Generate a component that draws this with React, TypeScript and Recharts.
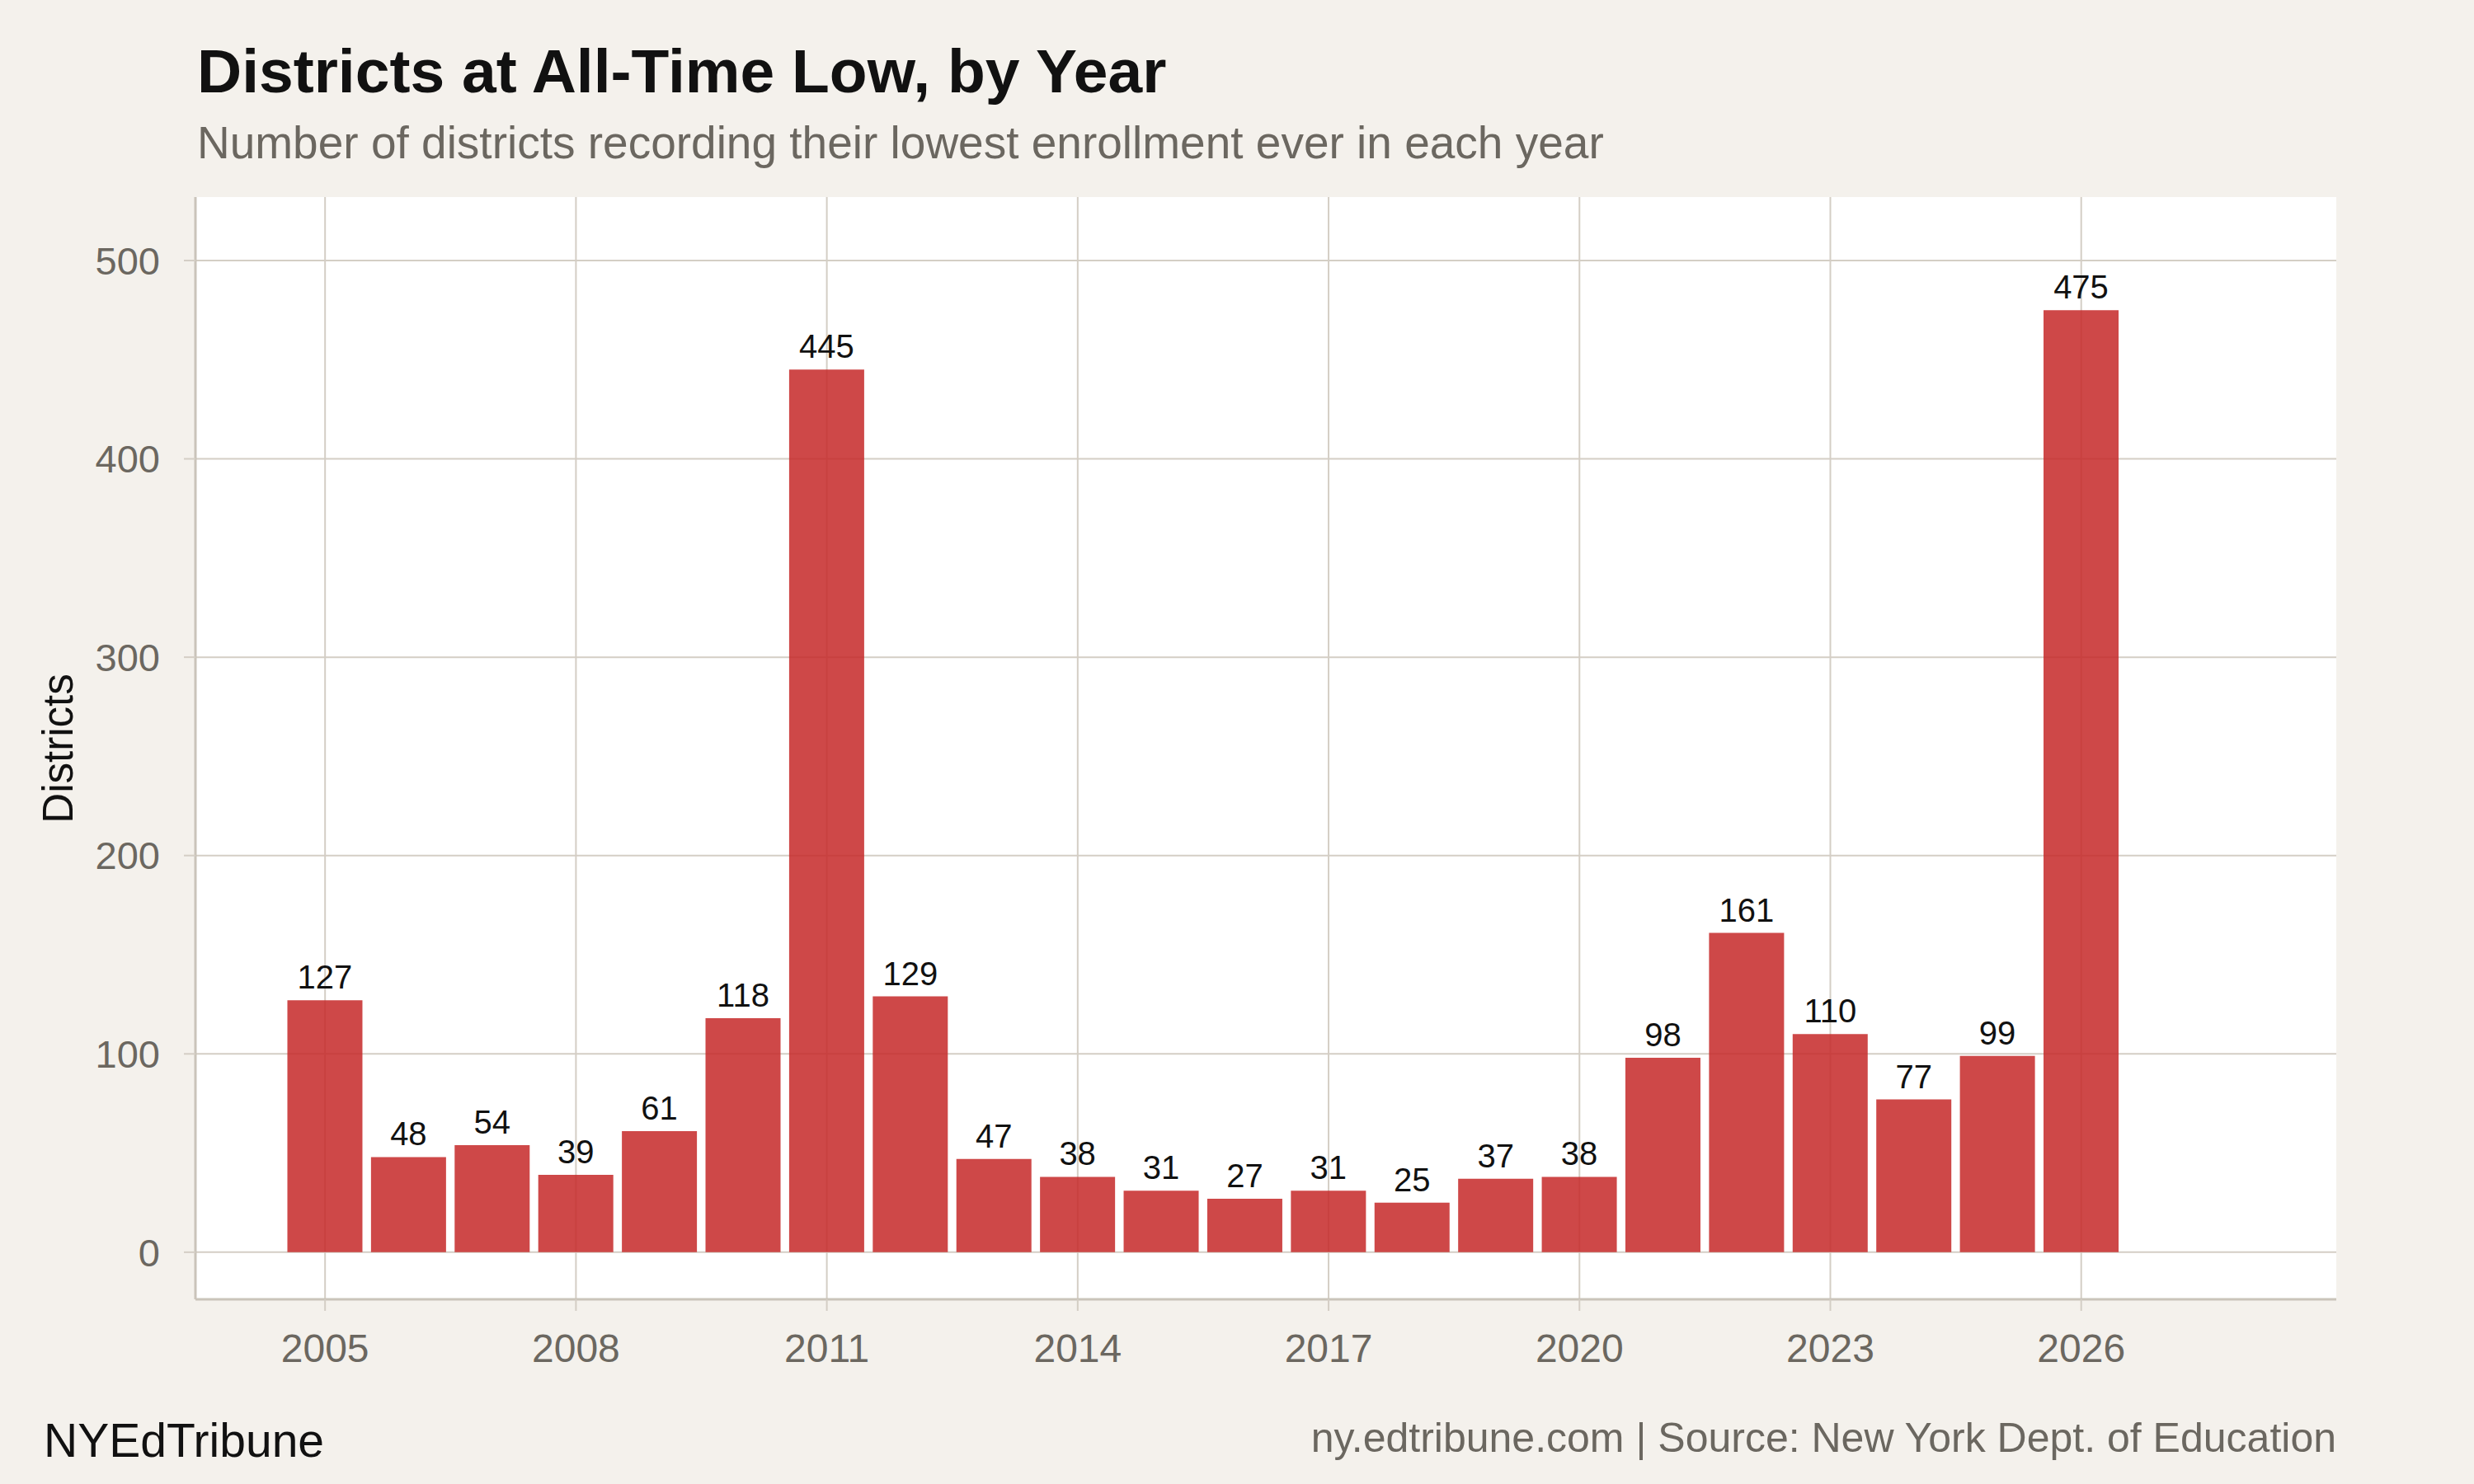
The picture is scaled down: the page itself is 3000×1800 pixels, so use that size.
import { Bar, BarChart, CartesianGrid, LabelList, XAxis, YAxis } from "recharts";

const YEARS = [
  2005, 2006, 2007, 2008, 2009, 2010, 2011, 2012, 2013, 2014, 2015,
  2016, 2017, 2018, 2019, 2020, 2021, 2022, 2023, 2024, 2025, 2026,
];
const DISTRICTS = [
  127, 48, 54, 39, 61, 118, 445, 129, 47, 38, 31,
  27, 31, 25, 37, 38, 98, 161, 110, 77, 99, 475,
];
const X_TICKS = [2005, 2008, 2011, 2014, 2017, 2020, 2023, 2026];
const Y_TICKS = [0, 100, 200, 300, 400, 500];

const TITLE = "Districts at All-Time Low, by Year";
const SUBTITLE = "Number of districts recording their lowest enrollment ever in each year";
const BRAND = "NYEdTribune";
const SOURCE = "ny.edtribune.com | Source: New York Dept. of Education";

const BG = "#f4f1ec";
const GRID = "#d4cec5";
const AXIS = "#cac4ba";
const MUTED = "#6b6760";
const BAR = "#c62828";
const FONT = "'Liberation Sans', Arial, Helvetica, sans-serif";

const data = YEARS.map((year, i) => ({ year, districts: DISTRICTS[i] }));

export default function App() {
  return (
    <div
      style={{
        position: "absolute",
        left: 0,
        top: 0,
        width: 3000,
        height: 1800,
        background: BG,
        fontFamily: FONT,
      }}
    >
      <BarChart
        width={3000}
        height={1800}
        data={data}
        margin={{ top: 239, right: 167, bottom: 144, left: 100 }}
      >
        {/* syncWithTicks keeps the grid from adding lines at the panel edges */}
        <CartesianGrid
          stroke={GRID}
          strokeWidth={2}
          fill="#ffffff"
          fillOpacity={1}
          syncWithTicks
        />
        <XAxis
          type="number"
          dataKey="year"
          domain={[2003.45, 2029.05]}
          ticks={X_TICKS}
          interval={0}
          height={80}
          tickSize={14}
          tickMargin={28}
          axisLine={{ stroke: AXIS, strokeWidth: 3 }}
          tickLine={{ stroke: GRID, strokeWidth: 2 }}
          tick={{ fill: MUTED, fontSize: 48 }}
        />
        <YAxis
          type="number"
          domain={[-23.75, 532]}
          ticks={Y_TICKS}
          interval={0}
          width={137}
          tickSize={14}
          tickMargin={29}
          allowDataOverflow
          axisLine={{ stroke: AXIS, strokeWidth: 3 }}
          tickLine={{ stroke: GRID, strokeWidth: 2 }}
          tick={{ fill: MUTED, fontSize: 47 }}
        />
        <Bar
          dataKey="districts"
          fill={BAR}
          fillOpacity={0.85}
          barSize={91}
          isAnimationActive={false}
        >
          <LabelList
            dataKey="districts"
            position="top"
            offset={14}
            fill="#111111"
            fontSize={40}
          />
        </Bar>
      </BarChart>

      <svg
        width={3000}
        height={1800}
        style={{ position: "absolute", left: 0, top: 0, pointerEvents: "none" }}
      >
        <text x={239} y={112} fontSize={75} fontWeight="bold" fill="#111111">
          {TITLE}
        </text>
        <text x={239} y={192} fontSize={55} fill={MUTED}>
          {SUBTITLE}
        </text>
        <text
          transform="translate(88,908) rotate(-90)"
          textAnchor="middle"
          fontSize={51}
          fill="#111111"
        >
          Districts
        </text>
        <text x={53} y={1767} fontSize={57} fill="#111111">
          {BRAND}
        </text>
        <text x={2833} y={1761} fontSize={50} textAnchor="end" fill={MUTED}>
          {SOURCE}
        </text>
      </svg>
    </div>
  );
}
